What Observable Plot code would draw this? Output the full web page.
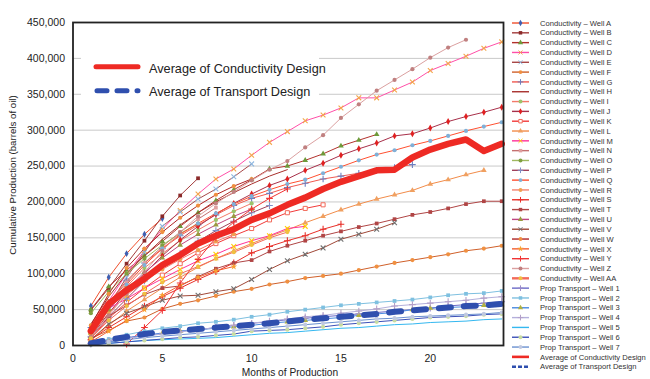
<!DOCTYPE html>
<html><head><meta charset="utf-8">
<script src="https://cdn.jsdelivr.net/npm/d3@7"></script>
<script src="https://cdn.jsdelivr.net/npm/@observablehq/plot@0.6"></script>
<style>
body{margin:0;background:#fff;}
#wrap{position:relative;width:650px;height:379px;font-family:"Liberation Sans",Arial,sans-serif;background:#fff;overflow:hidden;}
#wrap svg.ov{position:absolute;left:0;top:0;}
</style></head><body><div id="wrap"></div>
<script>
// ---------- data ----------
const months = [1,2,3,4,5,6,7,8,9,10,11,12,13,14,15,16,17,18,19,20,21,22,23,24];
const yTicks = [0,50000,100000,150000,200000,250000,300000,350000,400000,450000];
const xTicks = [0,5,10,15,20];
const yTitle = "Cumulative Production (barrels of oil)";
const xTitle = "Months of Production";

const wellA = [55000,95000,128000,155000,177000];
const wellB = [49000,80000,114000,146000,180000,209000,233000];
const wellC = [50000,82000,105000,125000,145000,166000,185000,202000,217000,231000,246000,250000,258000,267000,278000,286000,294000];
const wellD = [20000,62000,100000,132000,162000,188000,211000,232000,246000,265000,283000,298000,313000,321000,331000,345000,345000,356000,367000,383000,393000,403000,414000,423000];
const wellE = [15000,55000,95000,130000,166000,186000,204000,218000,235000,253000];
const wellF = [10000,21000,34000,39000,51000,58000,63000,69000,75000,79000,85000,89000,94000,97000,100000,105000,110000,115000,119000,123000,127000,132000,135000,139000];
const wellG = [25000,60000,90000,115000,135000,153000,168000,182000,195000,205000,212000,220000,226000,232000,236000,240000,244000,248000,252000];
const wellH = [30000,68000,100000,125000,148000,168000,185000,200000,213000,225000,236000,245000];
const wellI = [12000,50000,82000,108000,128000,146000,161000,175000,187000,198000];
const wellJ = [12000,45000,75000,100000,125000,147000,166000,183000,198000,211000,223000,232000,244000,254000,265000,274000,282000,292000,295000,303000,312000,319000,325000,332000];
const wellK = [10000,38000,60000,80000,98000,114000,129000,142000,153000,163000,175000,185000,191000,196000];
const wellL = [8000,28000,48000,64000,80000,95000,109000,121000,132000,142000,152000,161000,171000,180000,189000,197000,204000,210000,216000,225000,231000,238000,244000];
const wellM = [18000,52000,65000,80000,93000,106000,118000,127000,138000,146000,153000,163000,166000];
const wellN = [25000,58000,88000,115000,138000,158000,176000,192000];
const wellO = [45000,75000,100000,121000,140000,156000,170000];
const wellP = [12000,40000,65000,90000,110000,128000,145000,160000,173000,185000,195000];
const wellQ = [15000,55000,85000,112000,135000,155000,170000,184000,197000,208000,217000,225000,231000,240000,249000,258000,266000,272000,279000,285000,292000,299000,305000,311000];
const wellR = [15000,45000,70000,90000,106000,120000,133000,145000,155000];
const wellS = [8000,25000,40000,55000,68000,80000,92000,103000,115000,129000,138000,146000,153000,162000,169000];
const wellT = [27000,41000,56000,71000,80000,83000,96000,107000,115000,119000,131000,139000,146000,153000,159000,165000,170000,176000,182000,186000,191000,197000,201000,201000];
const wellU = [18000,50000,78000,102000,122000,140000,155000,168000,180000,190000];
const wellV = [8000,30000,45000,54000,63000,69000,70000,75000,79000,92000,106000,118000,127000,136000,148000,155000,162000,171000];
const wellW = [28000,72000,108000,135000,158000,178000,195000,210000,222000,232000];
const wellX = [5000,20000,35000,50000,70000,84000,95000,104000,110000];
const wellY = [null,null,2000,25000,49000,87000,120000,150000,172000,190000,205000,218000];
const wellZ = [12000,42000,72000,102000,132000,158000,180000,198000,214000,230000,245000,257000,276000,293000,317000,336000,355000,370000,385000,401000,415000,426000];
const wellAA = [10000,35000,55000,72000,88000,100000,110000,121000,130000,140000,150000,158000];

const prop1 = [3000,7000,11000,14000,17000,20000,22000,25000,28000,31000,33000,36000,38000,40000,42000,44000,46000,48000,50000,52000,55000,57000,59000,61000];
const prop2 = [3000,9000,15000,20000,24000,27000,31000,33000,36000,40000,43000,47000,50000,53000,56000,58000,60000,62000,64000,67000,70000,72000,73000,76000];
const prop3 = [2000,6000,10000,14000,17000,20000,22000,24000,26000,28000,31000,33000,35000,37000,39000,42000,44000,46000,50000,52000,53000,54000,56000,57000];
const prop4 = [2000,6000,10000,13000,16000,19000,22000,25000,28000,31000,34000,37000,40000,42000,45000,48000,51000,55000,57000,59000,61000,63000,66000,68000];
const prop5 = [1000,3000,5000,7000,8000,9000,10000,11000,13000,15000,17000,18000,20000,22000,24000,25000,27000,29000,30000,32000,33000,34000,36000,37000];
const prop6 = [1000,3000,5000,7000,9000,11000,12000,14000,16000,20000,21000,22000,24000,26000,29000,31000,33000,35000,37000,39000,40000,41000,43000,44000];
const prop7 = [2000,5000,8000,11000,13000,15000,17000,19000,21000,23000,25000,27000,29000,31000,33000,35000,37000,38000,40000,41000,42000,43000,44000,46000];

const avgCond = [20000,58000,77000,93000,112000,126000,142000,153000,162000,175000,184000,196000,206000,218000,228000,236000,244000,245000,262000,273000,281000,287000,271000,281000];
const avgTrans = [3000,8000,12000,16000,19000,21000,23000,25000,27000,29000,31000,33500,36000,38000,40000,42000,44000,47000,49000,51000,53000,55000,56000,58000];

const condLabels = ["A","B","C","D","E","F","G","H","I","J","K","L","M","N","O","P","Q","R","S","T","U","V","W","X","Y","Z","AA"];
const condValues = [wellA,wellB,wellC,wellD,wellE,wellF,wellG,wellH,wellI,wellJ,wellK,wellL,wellM,wellN,wellO,wellP,wellQ,wellR,wellS,wellT,wellU,wellV,wellW,wellX,wellY,wellZ,wellAA];
const condLine = ["#f0502d","#a33c3c","#b3312d","#ff4fa8","#a84848","#d0602a","#f05a50","#a8302c","#f37a6a","#a8304a","#f23a3a","#f28c4a","#ff3399","#c57070","#a0b860","#a0405a","#ff5030","#f58070","#e8302a","#b04545","#c04580","#a04838","#b02424","#f36030","#f03434","#dba0a0","#f36a5a"];
const condMark = ["#3f5fb0","#8b2a2a","#6e9a3a","#f3a64a","#8fb8e0","#f09040","#6d7fc0","none","#9cc36a","#e02020","#f26a5a","#f0a060","#ffcc00","#e0a0a0","#7fa040","#8090c8","#7fb0d8","#f0a050","#e8302a","#b04545","#9a9a40","#707070","#f09040","#f8a030","#f03434","#c08080","#f0c040"];
const condSym = ["diamond","square","triangle","times","times","circle","plus","none","circle","diamond","hollow","triangle","times","square","circle","plus","circle","circle","plus","square","triangle","times","circle","star","plus","circle","circle"];

const propLabels = ["1","2","3","4","5","6","7"];
const propValues = [prop1,prop2,prop3,prop4,prop5,prop6,prop7];
const propLine = ["#6a6ac8","#7ec0e0","#4a8ae0","#b4b0dc","#35b8f0","#3c50b8","#6a90d0"];
const propMark = ["#9a8ac8","#7ec0e0","#b0b040","#b4a0c8","none","#c8dca0","#c0c8e0"];
const propSym = ["plus","square","triangle","plus","none","circle","circle"];

// ---------- series ----------
const series = [];
condLabels.forEach((l,i)=>series.push({name:"Conductivity \u2013 Well "+l, values:condValues[i], color:condLine[i], mark:condMark[i], sym:condSym[i], width:1}));
propLabels.forEach((l,i)=>series.push({name:"Prop Transport \u2013 Well "+l, values:propValues[i], color:propLine[i], mark:propMark[i], sym:propSym[i], width:1}));
series.push({name:"Average of Conductivity Design", values:avgCond, color:"#ee2a24", mark:"none", sym:"none", width:6.5});
series.push({name:"Average of Transport Design", values:avgTrans, color:"#2f4fae", mark:"none", sym:"none", width:6, dash:"12,13"});

function rows(vals){ return vals.map((v,j)=>({m:months[j], v})).filter(d=>d.v!=null); }

const marks = [Plot.ruleY(yTicks.filter(t=>t>0 && t<450000), {stroke:"#c9c9c9", strokeWidth:1})];
for (const s of series) {
  const data = rows(s.values);
  const opt = {x:"m", y:"v", stroke:s.color, strokeWidth:s.width, strokeLinejoin:"round"};
  if (s.dash) { opt.strokeDasharray = s.dash; opt.strokeLinecap = "round"; }
  if (s.width > 2) opt.strokeLinecap = "round";
  marks.push(Plot.line(data, opt));
  if (s.sym !== "none") {
    if (s.sym === "plus" || s.sym === "times") {
      marks.push(Plot.dot(data, {x:"m", y:"v", symbol:s.sym, r:2.3, fill:"none", stroke:s.mark, strokeWidth:1.1}));
    } else if (s.sym === "hollow") {
      marks.push(Plot.dot(data, {x:"m", y:"v", symbol:"square", r:2.3, fill:"white", stroke:s.mark, strokeWidth:1}));
    } else {
      marks.push(Plot.dot(data, {x:"m", y:"v", symbol:s.sym, r:2.1, fill:s.mark, stroke:"none"}));
    }
  }
}
marks.push(Plot.frame({stroke:"#222", strokeWidth:1.8}));

const chart = Plot.plot({
  width:650, height:379,
  marginLeft:72.5, marginRight:147, marginTop:22, marginBottom:34,
  x:{domain:[0,24.1], ticks:xTicks, tickSize:0, tickPadding:9, label:null},
  y:{domain:[0,450000], ticks:yTicks, tickSize:0, tickPadding:8, label:null, tickFormat:d3.format(",")},
  style:{fontFamily:"'Liberation Sans', Arial, sans-serif", fontSize:"10.5px", color:"#222", background:"white"},
  marks
});
const wrap = document.getElementById("wrap");
wrap.appendChild(chart);

// ---------- titles & legends (overlay) ----------
const ov = d3.select(wrap).append("svg").attr("class","ov").attr("width",650).attr("height",379)
  .style("font-family","'Liberation Sans', Arial, sans-serif");

ov.append("text").attr("transform","translate(13,175) rotate(-90)").attr("text-anchor","middle").attr("dy","0.35em")
  .attr("font-size",9.7).attr("fill","#222").text(yTitle);
ov.append("text").attr("x",290).attr("y",372).attr("text-anchor","middle").attr("dy","0.35em")
  .attr("font-size",10.2).attr("fill","#222").text(xTitle);

// inner legend box
const ib = ov.append("g");
ib.append("rect").attr("x",81).attr("y",42).attr("width",238).attr("height",68).attr("fill","#fff");
ib.append("line").attr("x1",96).attr("x2",138).attr("y1",66.7).attr("y2",66.7).attr("stroke","#ee2a24").attr("stroke-width",5).attr("stroke-linecap","round");
ib.append("text").attr("x",149).attr("y",69).attr("dy","0.35em").attr("font-size",12.7).attr("fill","#222").text(series[series.length-2].name);
ib.append("line").attr("x1",97).attr("x2",138).attr("y1",90.7).attr("y2",90.7).attr("stroke","#2f4fae").attr("stroke-width",5).attr("stroke-linecap","round").attr("stroke-dasharray","10,10");
ib.append("text").attr("x",149).attr("y",92).attr("dy","0.35em").attr("font-size",12.7).attr("fill","#222").text(series[series.length-1].name);

// right legend
const symMap = {circle:d3.symbolCircle, square:d3.symbolSquare, hollow:d3.symbolSquare, diamond:d3.symbolDiamond, triangle:d3.symbolTriangle, star:d3.symbolStar, plus:(d3.symbolPlus||d3.symbolCross), times:(d3.symbolTimes||d3.symbolCross)};
const rl = ov.append("g");
const y0 = 23, step = 9.82;
series.forEach((s,i)=>{
  const y = y0 + i*step;
  const g = rl.append("g");
  const ln = g.append("line").attr("x1",512).attr("x2",529).attr("y1",y).attr("y2",y).attr("stroke",s.color)
    .attr("stroke-width", s.width>2 ? 2.6 : (s.name.endsWith("AA") ? 2.4 : 1.4));
  if (s.dash) ln.attr("stroke-dasharray","4,2");
  if (s.sym !== "none") {
    const stroked = s.sym==="plus"||s.sym==="times";
    g.append("path").attr("transform",`translate(520.5,${y})`).attr("d",d3.symbol(symMap[s.sym], 12)())
      .attr("fill", stroked ? "none" : (s.sym==="hollow" ? "#fff" : s.mark))
      .attr("stroke", (stroked||s.sym==="hollow") ? s.mark : "none").attr("stroke-width",1);
  }
  g.append("text").attr("x",540).attr("y",y).attr("dy","0.35em").attr("font-size",7.6).attr("fill","#333").text(s.name);
});
</script></body></html>
